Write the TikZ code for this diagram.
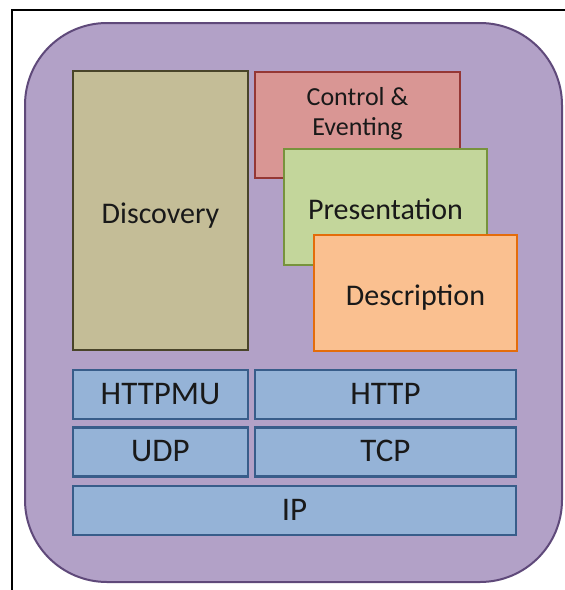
\documentclass[tikz,border=0pt]{standalone}
\usepackage{fontspec}
\setmainfont{Carlito}

\definecolor{frameline}{rgb}{0,0,0}
\definecolor{stackfill}{HTML}{B2A1C7}
\definecolor{stackline}{HTML}{5F497A}
\definecolor{discfill}{HTML}{C4BD97}
\definecolor{discline}{HTML}{494429}
\definecolor{ctrlfill}{HTML}{D99694}
\definecolor{ctrlline}{HTML}{953735}
\definecolor{presfill}{HTML}{C3D69B}
\definecolor{presline}{HTML}{77933C}
\definecolor{descfill}{HTML}{FAC090}
\definecolor{descline}{HTML}{E46C0A}
\definecolor{netfill}{HTML}{95B3D7}
\definecolor{netline}{HTML}{385D8A}

\tikzset{
  layer/.style={draw, line width=2.8pt, inner sep=0pt, text=black!90,
    text height=25pt, text depth=0pt, font=\fontsize{30}{36}\selectfont},
  netlayer/.style={layer, fill=netfill, draw=netline, minimum height=49pt,
    text height=19pt, font=\fontsize{33}{38}\selectfont}
}

\begin{document}
\begin{tikzpicture}[x=1pt, y=-1pt]
            \useasboundingbox (0,0) rectangle (565,590);
            \draw[frameline, line width=2pt] (12,590) -- (12,10) -- (565,10);

            \filldraw[fill=stackfill, draw=stackline, line width=2pt, rounded corners=82pt] (25,23) rectangle (562,582);

            \node[layer, fill=discfill, draw=discline, minimum width=175pt, minimum height=279pt] (discovery) at (160.5,210.5) {Discovery};
            \node[layer, fill=ctrlfill, draw=ctrlline, minimum width=205pt, minimum height=106pt] (control) at (357.5,125) {};
            \node[font=\fontsize{26}{30}\selectfont, align=center, text=black!90, inner sep=0pt] (controltext) at (357.5,114) {Control \&\\Eventing};
            \node[layer, fill=presfill, draw=presline, minimum width=203pt, minimum height=116pt] (presentation) at (385.5,207) {Presentation};
            \node[layer, fill=descfill, draw=descline, minimum width=203pt, minimum height=116pt] (description) at (415.5,293) {Description};

            \node[netlayer, minimum width=175pt] (httpmu) at (160.5,394.5) {HTTPMU};
            \node[netlayer, minimum width=261pt] (http) at (385.5,394.5) {HTTP};
            \node[netlayer, minimum width=175pt] (udp) at (160.5,452) {UDP};
            \node[netlayer, minimum width=261pt] (tcp) at (385.5,452) {TCP};
            \node[netlayer, minimum width=443pt] (ip) at (294.5,510.5) {IP};
        \end{tikzpicture}
\end{document}
